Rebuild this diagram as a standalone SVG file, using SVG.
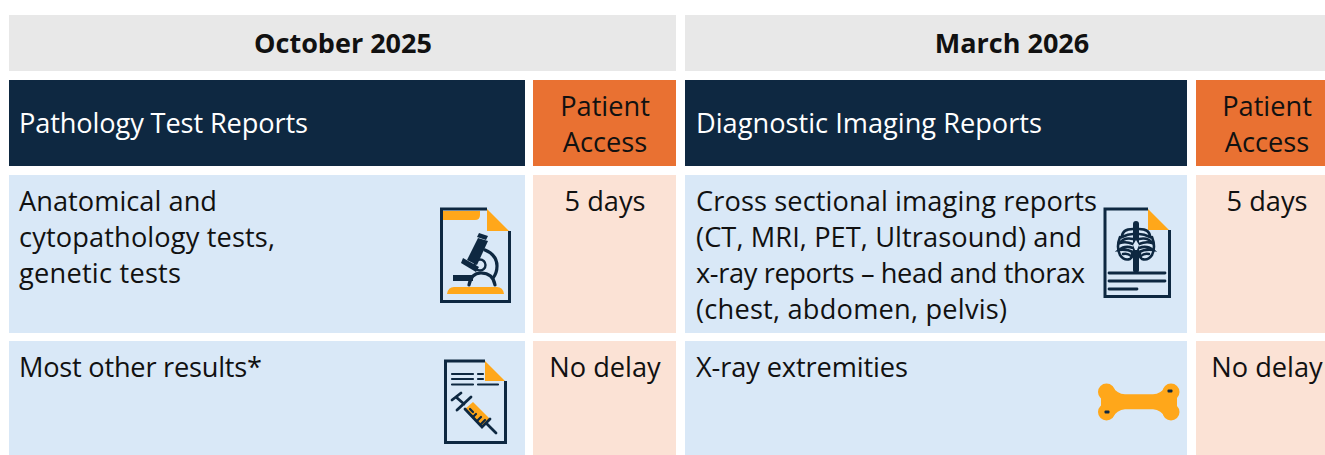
<svg xmlns="http://www.w3.org/2000/svg" width="1325" height="455" viewBox="0 0 1325 455">
<style>
text{font-family:"Open Sans","Liberation Sans",sans-serif;font-size:27.2px;fill:#111}
.b{font-weight:700;font-size:27px}
.w{fill:#fff}
.m{text-anchor:middle}
.k{fill:none;stroke:#0e2841;stroke-width:3}
.t{fill:none;stroke:#0e2841;stroke-width:2.4;stroke-linecap:round}
.o{fill:#ffa71a}
.n{fill:#0e2841}
.grey{fill:#e8e8e8}.navy{fill:#0e2841}.or{fill:#e97132}.blue{fill:#d9e8f7}.pe{fill:#fbe2d5}
</style>
<rect width="1325" height="455" fill="#fff"/>
<g id="head-oct"><rect class="grey" x="9" y="15" width="667" height="56"/><text class="b m" x="343" y="53">October 2025</text></g>
<g id="head-mar"><rect class="grey" x="685" y="15" width="640" height="56"/><text class="b m" x="1012" y="53">March 2026</text></g>
<g id="path-title"><rect class="navy" x="9" y="80" width="516" height="86"/><text class="w" x="19" y="133" textLength="289">Pathology Test Reports</text></g>
<g id="path-access"><rect class="or" x="533" y="80" width="143" height="86"/><text class="m" x="605" y="115.500">Patient</text><text class="m" x="605" y="151.500">Access</text></g>
<g id="img-title"><rect class="navy" x="685" y="80" width="502" height="86"/><text class="w" x="696" y="133" textLength="346">Diagnostic Imaging Reports</text></g>
<g id="img-access"><rect class="or" x="1196" y="80" width="129" height="86"/><text class="m" x="1267" y="115.500">Patient</text><text class="m" x="1267" y="151.500">Access</text></g>
<g id="path-row1"><rect class="blue" x="9" y="175" width="516" height="158"/>
<text x="19" y="210.500" textLength="198">Anatomical and</text><text x="19" y="246.500" textLength="256">cytopathology tests,</text><text x="19" y="282.500" textLength="162">genetic tests</text>
<g id="icon-microscope">
<path class="k" d="M487 209H441.500V301.500H509.500V231"/>
<path class="o" d="M443 211H480V215Q480 220 475 220H443Z"/>
<path class="o" d="M487 209L509 231H487Z"/>
<path class="o" d="M447 294Q448 287 454 287H497Q503 287 504 294Z"/>
<rect class="n" x="453" y="275" width="20" height="6"/>
<path class="t" style="stroke-width:3.200" d="M469 285Q471 273 481 273Q493 273 495 285"/>
<path class="t" style="stroke-width:3.200" d="M485 250Q497 255 497 266Q497 273 493 278"/>
<circle cx="480" cy="265" r="5.500" fill="none" stroke="#0e2841" stroke-width="2.400"/>
<path class="n" d="M478 238L488 241L477 265L467 260Z"/>
<path class="n" d="M477 237L486 240L488 236L479 233Z"/>
<path class="n" d="M463 258L479 267L476 272L461 263Z"/>
</g></g>
<g id="path-row1-access"><rect class="pe" x="533" y="175" width="143" height="158"/><text class="m" x="605" y="210.500">5 days</text></g>
<g id="img-row1"><rect class="blue" x="685" y="175" width="502" height="158"/>
<text x="696" y="210.500" textLength="401">Cross sectional imaging reports</text><text x="696" y="246.500" textLength="386">(CT, MRI, PET, Ultrasound) and</text><text x="696" y="282.500" textLength="389">x-ray reports – head and thorax</text><text x="696" y="318.500" textLength="311">(chest, abdomen, pelvis)</text>
<g id="icon-xray">
<path class="k" d="M1148 209H1105V296.500H1169.500V230"/>
<path class="o" d="M1148 209L1169 230H1148Z"/>
<path class="t" style="stroke-width:2.800" d="M1109 273H1165M1109 281H1165M1109 289H1137"/>
<path class="t" style="stroke-width:6" d="M1136 224V270"/>
<path class="t" style="stroke-width:2.600" d="M1133 229Q1122 229 1122 237Q1128 234 1133 234M1139 229Q1150 229 1150 237Q1144 234 1139 234"/>
<path class="t" style="stroke-width:2.600" d="M1133 239Q1124 237 1120 243Q1126 241 1133 244M1139 239Q1148 237 1152 243Q1146 241 1139 244"/>
<path class="t" style="stroke-width:2.600" d="M1133 248Q1125 245 1119 250Q1127 249 1133 252M1139 248Q1147 245 1153 250Q1145 249 1139 252"/>
<path class="t" style="stroke-width:2.600" d="M1120 237Q1116 247 1120 255Q1124 261 1130 259Q1133 257 1132 253M1152 237Q1156 247 1152 255Q1148 261 1142 259Q1139 257 1140 253"/>
<path class="t" d="M1123 254Q1128 253 1131 256M1149 254Q1144 253 1141 256"/>
<path fill="#d9e8f7" d="M1136 240L1139 245L1137 250H1135L1133 245Z"/>
</g></g>
<g id="img-row1-access"><rect class="pe" x="1196" y="175" width="129" height="158"/><text class="m" x="1267" y="210.500">5 days</text></g>
<g id="path-row2"><rect class="blue" x="9" y="341" width="516" height="114"/><text x="19" y="376.500" textLength="243">Most other results*</text>
<g id="icon-syringe">
<path class="k" d="M485 361H445.500V442.500H505.500V381"/>
<path class="o" d="M485 361L505 381H485Z"/>
<path class="t" style="stroke-width:2.200" d="M452 374H473M452 379H473M452 384.500H473M478 374H483M478 379H483M478 384.500H498"/>
<path class="o" d="M465 409L473 402L490 419L482 427Z"/>
<path class="t" style="stroke-width:2.800" d="M452 400L461 393M457 410L471 397M456 397L464 404M465 409L482 427L490 419M486 423L496 433"/>
<path class="t" style="stroke-width:2.200" d="M473 417L476 414M477 421L481 417M481 424L485 420M470 409L473 412"/>
</g></g>
<g id="path-row2-access"><rect class="pe" x="533" y="341" width="143" height="114"/><text class="m" x="605" y="376.500">No delay</text></g>
<g id="img-row2"><rect class="blue" x="685" y="341" width="502" height="114"/><text x="696" y="376.500" textLength="212">X-ray extremities</text>
<g id="icon-bone">
<circle class="o" cx="1106.500" cy="392" r="8.500"/><circle class="o" cx="1106.500" cy="412" r="8.500"/>
<circle class="o" cx="1171" cy="392" r="8.500"/><circle class="o" cx="1171" cy="412" r="8.500"/>
<rect class="o" x="1101" y="395" width="76" height="14"/>
<path class="o" d="M1112 386Q1117 394 1125 394.300H1153Q1161 394 1166 386L1166 418Q1161 410 1153 409.300H1125Q1117 410 1112 418Z"/>
<rect class="n" x="1104.500" y="410.500" width="5" height="3" rx="1"/>
<rect class="n" x="1167.500" y="389.500" width="5" height="3" rx="1"/>
</g></g>
<g id="img-row2-access"><rect class="pe" x="1196" y="341" width="129" height="114"/><text class="m" x="1267" y="376.500">No delay</text></g>
<g id="connectors"></g>
</svg>
